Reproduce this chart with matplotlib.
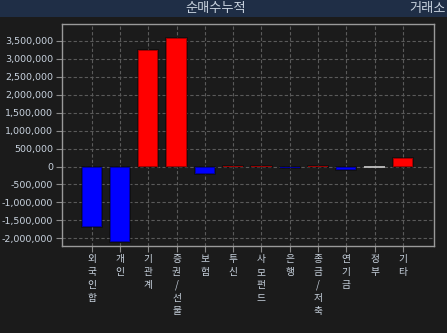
import matplotlib
matplotlib.use("Agg")
import matplotlib.pyplot as plt
from matplotlib.patches import Rectangle
from matplotlib.ticker import FuncFormatter

# ----------------------------------------------------------------------
# Data (net buying, cumulative)
# ----------------------------------------------------------------------
investors = ["외국인합", "개인", "기관계", "증권/선물", "보험", "투신",
             "사모펀드", "은행", "종금/저축", "연기금", "정부", "기타"]
net_buy = [-1680000, -2100000, 3250000, 3570000, -210000, 25000,
           25000, -30000, 22000, -100000, 0, 240000]
y_ticks = [-2000000, -1500000, -1000000, -500000, 0, 500000, 1000000,
           1500000, 2000000, 2500000, 3000000, 3500000]

BG = "#1b1b1b"
HEADER = "#1f2e46"
TXT = "#c9d3df"
GRID = "#5a5a5a"
KR = ["Noto Sans CJK KR", "DejaVu Sans"]


def bar_color(v):
    if v > 0:
        return "#ff0000"
    if v < 0:
        return "#0000ff"
    return "#c0c0c0"


def edge_color(v):
    # zero bars only show their outline, so keep it light
    return "#c0c0c0" if v == 0 else (0, 0, 0, 0.4)


fig = plt.figure(figsize=(4.47, 3.33), dpi=100)
fig.patch.set_facecolor(BG)

# header band
fig.patches.append(Rectangle((0, 1 - 17 / 333), 1, 17 / 333,
                             transform=fig.transFigure,
                             facecolor=HEADER, edgecolor="none"))
fig.text(216 / 447, 1 - 8.5 / 333, "순매수누적", ha="center", va="center",
         color=TXT, fontsize=9.5, family=KR)
fig.text(446 / 447, 1 - 8.5 / 333, "거래소", ha="right", va="center",
         color=TXT, fontsize=9.5, family=KR)

ax = fig.add_axes([61.7 / 447, 1 - 246 / 333, (434 - 61.7) / 447, (246 - 24.3) / 333])
ax.set_facecolor(BG)

x = range(len(investors))
ax.bar(x, net_buy, width=0.72, color=[bar_color(v) for v in net_buy],
       edgecolor=[edge_color(v) for v in net_buy], linewidth=1.3, zorder=3)

ax.set_xlim(-1.06, len(investors) + 0.1)
ax.set_ylim(-2216000, 3964000)
ax.set_yticks(y_ticks)
ax.yaxis.set_major_formatter(FuncFormatter(lambda v, _: f"{int(v):,}"))
ax.set_xticks(list(x))
ax.set_xticklabels(["\n".join(name) for name in investors], family=KR,
                   fontsize=7, linespacing=1.35, va="top")

ax.grid(True, color=GRID, linestyle=(0, (3, 2)), linewidth=0.8, zorder=0)
for s in ax.spines.values():
    s.set_edgecolor("#9a9a9a")
    s.set_linewidth(1.0)
ax.tick_params(axis="both", colors="#8a8a8a", length=4, width=0.8,
               labelcolor=TXT)
ax.tick_params(axis="y", labelsize=6.8, pad=2)
ax.tick_params(axis="x", pad=2)

fig.savefig("out.png", dpi=100, facecolor=fig.get_facecolor())
